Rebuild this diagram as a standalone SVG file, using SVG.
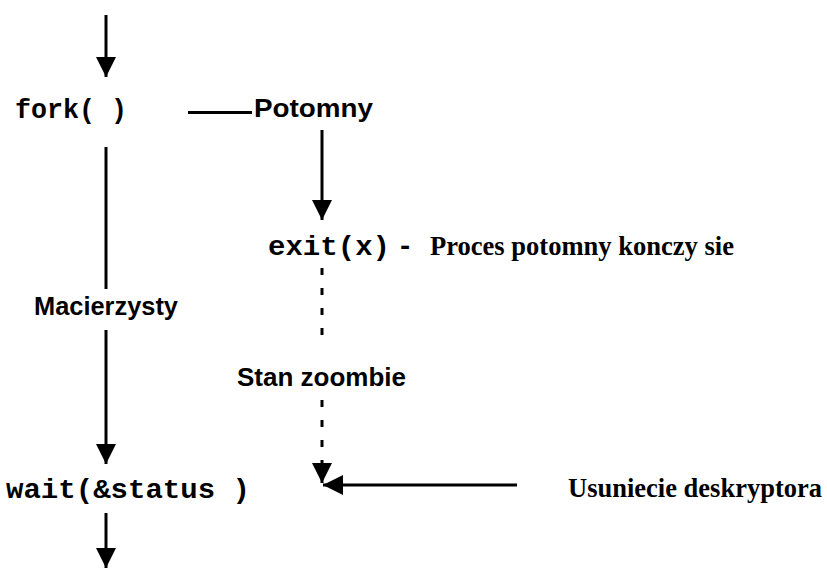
<svg xmlns="http://www.w3.org/2000/svg" width="827" height="568" viewBox="0 0 827 568">
<style>
.mono{font-family:"Liberation Mono","Courier New",monospace;font-weight:bold;font-size:27px;fill:#000}
.sans{font-family:"Liberation Sans",Arial,sans-serif;font-weight:bold;font-size:25px;fill:#000}
.serif{font-family:"Liberation Serif","Times New Roman",serif;font-weight:bold;font-size:26.5px;fill:#000}
.ln{stroke:#000;stroke-width:3;fill:none}
.dash{stroke:#000;stroke-width:3;fill:none;stroke-dasharray:7 13}
</style>
<defs>
<marker id="ah" viewBox="0 0 20 20" refX="20" refY="10" markerWidth="20" markerHeight="20" markerUnits="userSpaceOnUse" orient="auto">
<path d="M0,0 L20,10 L0,20 Z" fill="#000"/>
</marker>
</defs>
<rect width="827" height="568" fill="#fff"/>
<g id="connectors">
<line class="ln" x1="106" y1="15" x2="106" y2="77" marker-end="url(#ah)"/>
<line class="ln" x1="106" y1="147" x2="106" y2="289"/>
<line class="ln" x1="106" y1="330" x2="106" y2="464" marker-end="url(#ah)"/>
<line class="ln" x1="106" y1="513" x2="106" y2="568" marker-end="url(#ah)"/>
<line class="ln" x1="188" y1="112.5" x2="252" y2="112.5"/>
<line class="ln" x1="322" y1="130" x2="322" y2="220" marker-end="url(#ah)"/>
<line class="dash" x1="322" y1="268" x2="322" y2="345"/>
<line class="dash" x1="322" y1="400" x2="322" y2="460"/>
<line class="ln" x1="322" y1="460" x2="322" y2="483" marker-end="url(#ah)"/>
<line class="ln" x1="517" y1="485" x2="323" y2="485" marker-end="url(#ah)"/>
</g>
<g id="fork"><text class="mono" x="15" y="118" textLength="112" lengthAdjust="spacingAndGlyphs">fork( )</text></g>
<g id="potomny"><text class="sans" x="254" y="117" font-size="26" textLength="119" lengthAdjust="spacingAndGlyphs">Potomny</text></g>
<g id="exit"><text class="mono" x="268" y="255"><tspan textLength="122" lengthAdjust="spacingAndGlyphs">exit(x)</tspan> <tspan x="397">-</tspan></text></g>
<g id="proces"><text class="serif" x="430" y="255" textLength="304" lengthAdjust="spacingAndGlyphs">Proces potomny konczy sie</text></g>
<g id="macierzysty"><text class="sans" x="34" y="315" textLength="144" lengthAdjust="spacingAndGlyphs">Macierzysty</text></g>
<g id="zoombie"><text class="sans" x="237" y="386" textLength="169" lengthAdjust="spacingAndGlyphs">Stan zoombie</text></g>
<g id="wait"><text class="mono" x="6" y="498" textLength="244" lengthAdjust="spacingAndGlyphs">wait(&amp;status )</text></g>
<g id="usuniecie"><text class="serif" x="568" y="497" textLength="254" lengthAdjust="spacingAndGlyphs">Usuniecie deskryptora</text></g>
</svg>
